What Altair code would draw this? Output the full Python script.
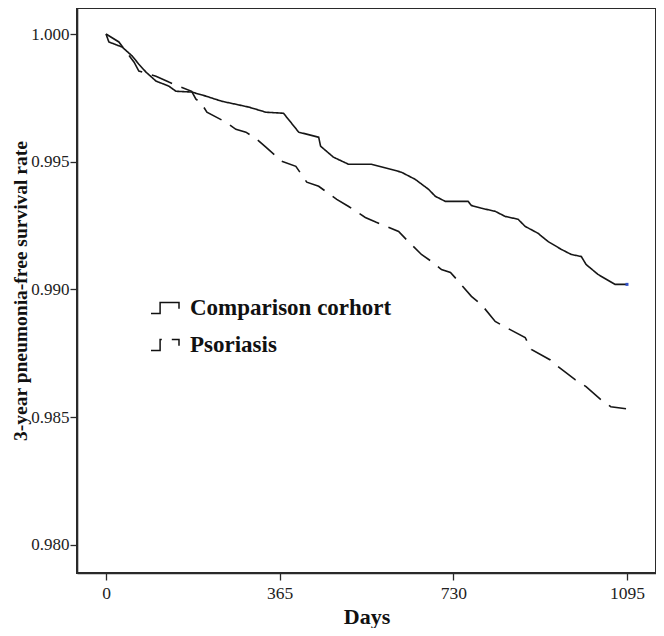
import altair as alt
import pandas as pd

# Comparison cohort (solid)
cmp_days = [0, 6, 34, 55, 69, 84, 105, 132, 147, 180, 210, 243, 273, 300, 336, 373,
            405, 447, 451, 478, 510, 558, 598, 621, 650, 678, 692, 713, 761, 768,
            789, 818, 839, 866, 881, 908, 929, 957, 978, 999, 1009, 1034, 1070, 1095]
cmp_surv = [1.0000, 0.99969, 0.99949, 0.99914, 0.99882, 0.99851, 0.99816, 0.99796,
            0.99776, 0.99773, 0.99757, 0.99737, 0.99725, 0.99714, 0.99694, 0.99690,
            0.99616, 0.99596, 0.99561, 0.99518, 0.99490, 0.99490, 0.99471, 0.99459,
            0.99431, 0.99392, 0.99365, 0.99345, 0.99345, 0.99329, 0.99318, 0.99306,
            0.99286, 0.99275, 0.99247, 0.99220, 0.99188, 0.99157, 0.99137, 0.99129,
            0.99098, 0.99059, 0.99020, 0.99020]

# Psoriasis (dashed)
pso_days = [0, 27, 59, 69, 105, 132, 153, 180, 189, 199, 212, 252, 273, 294, 317, 336,
            369, 399, 422, 447, 485, 510, 545, 568, 615, 631, 663, 684, 705, 724, 741,
            768, 789, 818, 841, 881, 894, 933, 950, 986, 1009, 1040, 1061, 1093]
pso_surv = [1.0000, 0.99969, 0.99890, 0.99855, 0.99835, 0.99812, 0.99796, 0.99776,
            0.99745, 0.99733, 0.99694, 0.99655, 0.99627, 0.99616, 0.99588, 0.99557,
            0.99502, 0.99482, 0.99420, 0.99404, 0.99353, 0.99325, 0.99282, 0.99263,
            0.99227, 0.99196, 0.99137, 0.99110, 0.99078, 0.99067, 0.99031, 0.98973,
            0.98941, 0.98875, 0.98851, 0.98812, 0.98765, 0.98725, 0.98698, 0.98647,
            0.98620, 0.98569, 0.98541, 0.98533]

groups = ["Comparison corhort", "Psoriasis"]
x_ticks = [0, 365, 730, 1095]
y_ticks = [0.980, 0.985, 0.990, 0.995, 1.000]

df = pd.concat([
    pd.DataFrame({"day": cmp_days, "surv": cmp_surv, "group": groups[0]}),
    pd.DataFrame({"day": pso_days, "surv": pso_surv, "group": groups[1]}),
])
end_df = pd.DataFrame({"day": [cmp_days[-1]], "surv": [cmp_surv[-1]]})

FONT = "Liberation Serif"
FRAME = "#2a2a2a"

xs = alt.Scale(domain=[-61, 1156], nice=False, zero=False)
ys = alt.Scale(domain=[0.9789, 1.00102], nice=False, zero=False)

x_axis = alt.Axis(values=x_ticks, format="d", title="Days", grid=False,
                  domain=True, domainColor=FRAME, domainWidth=1.6,
                  tickSize=7, tickColor=FRAME, tickWidth=1.3, labelPadding=4,
                  labelFont=FONT, labelFontSize=17.5, labelColor="#222",
                  titleFont=FONT, titleFontSize=22, titleFontWeight="bold",
                  titleColor="#111", titleY=50, titleBaseline="alphabetic")
y_axis = alt.Axis(values=y_ticks, format=".3f", title="3-year pneumonia-free survival rate",
                  grid=False, domain=True, domainColor=FRAME, domainWidth=1.6,
                  tickSize=7, tickColor=FRAME, tickWidth=1.3, labelPadding=1,
                  labelFont=FONT, labelFontSize=17, labelColor="#222",
                  titleFont=FONT, titleFontSize=19.5, titleFontWeight="bold",
                  titleColor="#111", titleX=-51, titleBaseline="alphabetic")

legend = alt.Legend(title=None, orient="none", legendX=73, legendY=285, padding=0,
                    symbolType="M-1,0.4L-0.35,0.4L-0.35,-0.4L1,-0.4L1,0.05",
                    symbolSize=784, symbolStrokeWidth=1.5, symbolStrokeColor="#111",
                    symbolFillColor="transparent", labelLimit=0,
                    labelFont=FONT, labelFontSize=23, labelFontWeight="bold",
                    labelColor="#111", labelOffset=10, rowPadding=10)

lines = alt.Chart(df).mark_line(color="#161616", strokeWidth=1.6).encode(
    x=alt.X("day:Q", scale=xs, axis=x_axis),
    y=alt.Y("surv:Q", scale=ys, axis=y_axis),
    strokeDash=alt.StrokeDash("group:N",
                              scale=alt.Scale(domain=groups, range=[[1, 0], [22, 10]]),
                              legend=legend),
    detail="group:N",
    order="day:Q",
)

end_pt = alt.Chart(end_df).mark_point(shape="square", filled=True, color="#3050c8",
                                      size=9, opacity=1).encode(
    x=alt.X("day:Q", scale=xs),
    y=alt.Y("surv:Q", scale=ys),
)

chart = alt.layer(lines, end_pt).properties(
    width=579, height=565,
    autosize=alt.AutoSizeParams(type="none"),
    padding={"left": 69, "top": 0, "right": 0, "bottom": 55},
    view=alt.ViewBackground(stroke=FRAME, strokeWidth=2, fill="white"),
).configure(
    background="white",
    view=alt.ViewConfig(stroke=FRAME, strokeWidth=2),
)

chart.save("out.html", embed_options={"renderer": "svg", "actions": False})
